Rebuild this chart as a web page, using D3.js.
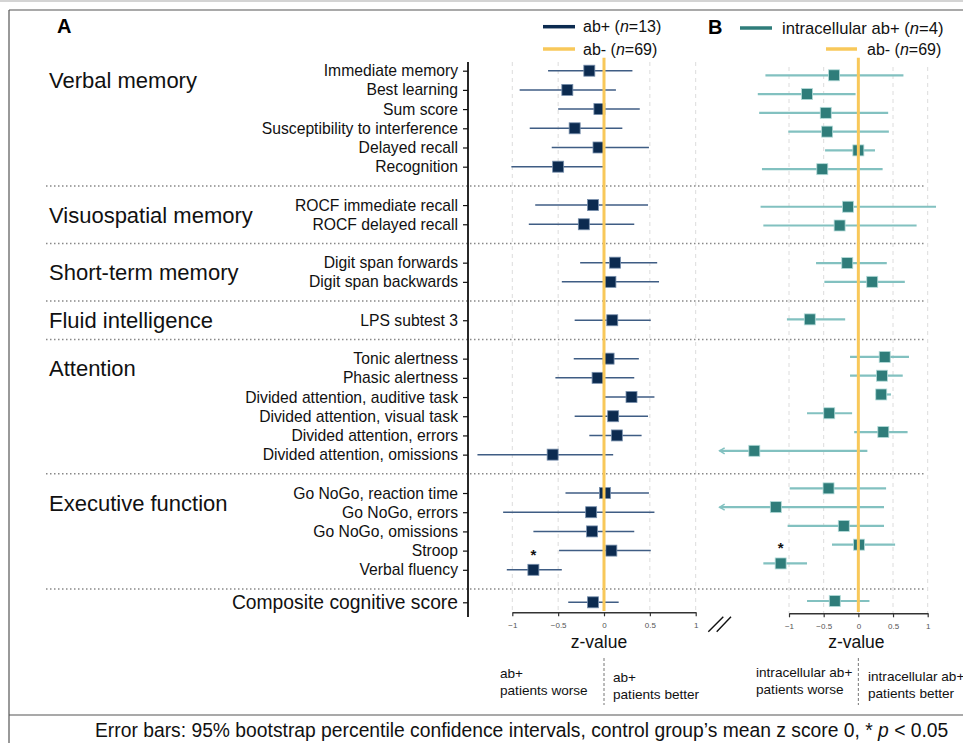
<!DOCTYPE html>
<html>
<head>
<meta charset="utf-8">
<script src="https://cdn.jsdelivr.net/npm/d3@7"></script>
<style>
  body { margin: 0; background: #fff; }
  svg { display: block; font-family: Helvetica, Arial, "Liberation Sans", sans-serif; }
</style>
</head>
<body>
<svg id="chart" width="963" height="743"></svg>
<script>
// categories
var groupNames = ["Verbal memory", "Visuospatial memory", "Short-term memory", "Fluid intelligence",
                  "Attention", "Executive function", "Composite cognitive score"];
var testNames = ["Immediate memory", "Best learning", "Sum score", "Susceptibility to interference",
                 "Delayed recall", "Recognition",
                 "ROCF immediate recall", "ROCF delayed recall",
                 "Digit span forwards", "Digit span backwards",
                 "LPS subtest 3",
                 "Tonic alertness", "Phasic alertness", "Divided attention, auditive task",
                 "Divided attention, visual task", "Divided attention, errors", "Divided attention, omissions",
                 "Go NoGo, reaction time", "Go NoGo, errors", "Go NoGo, omissions", "Stroop", "Verbal fluency",
                 "Composite cognitive score"];
var testGroup = [0,0,0,0,0,0, 1,1, 2,2, 3, 4,4,4,4,4,4, 5,5,5,5,5, 6];

// panel A: ab+ (n=13), z relative to ab- controls
var abMean = [-0.16,-0.40,-0.05,-0.32,-0.06,-0.50, -0.12,-0.22, 0.12,0.07, 0.09,
              0.05,-0.07,0.30,0.10,0.14,-0.56, 0.01,-0.14,-0.13,0.08,-0.77, -0.12];
var abLow  = [-0.61,-0.92,-0.50,-0.81,-0.57,-1.01, -0.75,-0.82, -0.26,-0.46, -0.32,
              -0.33,-0.53,0.01,-0.32,-0.16,-1.38, -0.42,-1.10,-0.77,-0.49,-1.06, -0.39];
var abHigh = [0.31,0.13,0.39,0.20,0.49,0.00, 0.48,0.33, 0.58,0.60, 0.51,
              0.38,0.33,0.55,0.48,0.41,0.10, 0.49,0.55,0.33,0.51,-0.46, 0.16];

// panel B: intracellular ab+ (n=4)
var icMean = [-0.35,-0.74,-0.47,-0.45,0.00,-0.52, -0.15,-0.27, -0.16,0.20, -0.70,
              0.38,0.34,0.33,-0.42,0.36,-1.50, -0.43,-1.19,-0.21,0.01,-1.12, -0.34];
var icLow  = [-1.34,-1.45,-1.43,-1.01,-0.48,-1.39, -1.41,-1.37, -0.61,-0.49, -1.03,
              -0.12,-0.12,0.25,-0.74,-0.06,-2.40, -0.99,-2.30,-1.02,-0.38,-1.37, -0.74];
var icHigh = [0.65,-0.04,0.43,0.44,0.24,0.35, 1.12,0.84, 0.41,0.67, -0.19,
              0.73,0.64,0.47,-0.09,0.71,0.13, 0.40,0.37,0.37,0.53,-0.74, 0.16];

var significant = ["Verbal fluency"];
var zTicks = [-1, -0.5, 0, 0.5, 1];

var navy = "#0c2b50", navyLine = "#3f5d84";
var teal = "#2f7d7a", tealLine = "#82c1c0";
var orange = "#f8c85a";

var svg = d3.select("#chart");

// slot = row position, one empty slot between groups
var slot = testNames.map(function(d, i) { return i + testGroup[i]; });
var sepSlots = groupNames.slice(1).map(function(g, k) {
    return testGroup.indexOf(k + 1) + k;
});
var lastSep = sepSlots[sepSlots.length - 1];
var lastSlot = slot[slot.length - 1];

var yA = d3.scaleLinear().domain([0, lastSep, lastSlot]).range([70.7, 589, 602.3]);
var yB = d3.scaleLinear().domain([0, lastSlot]).range([75.3, 601]);
var xA = d3.scaleLinear().domain([-1, 1]).range([512.3, 695.7]);
var xB = d3.scaleLinear().domain([-1, 1]).range([789, 927.7]);
var clipB = -2;

// frame
svg.append("line").attr("x1", 0).attr("x2", 963).attr("y1", 1).attr("y2", 1)
    .attr("stroke", "#d4d4d4").attr("stroke-width", 2);
svg.append("line").attr("x1", 9).attr("x2", 963).attr("y1", 10).attr("y2", 10)
    .attr("stroke", "#555").attr("stroke-width", 1.2);
svg.append("line").attr("x1", 9).attr("x2", 9).attr("y1", 10).attr("y2", 743)
    .attr("stroke", "#555").attr("stroke-width", 1.2);
svg.append("line").attr("x1", 9).attr("x2", 963).attr("y1", 715).attr("y2", 715)
    .attr("stroke", "#555").attr("stroke-width", 1.2);

// panel letters
svg.append("text").attr("x", 57).attr("y", 33).attr("font-size", 20).attr("font-weight", "bold").text("A");
svg.append("text").attr("x", 708).attr("y", 34).attr("font-size", 20).attr("font-weight", "bold").text("B");

// grid lines
function grid(x, y0, y1) {
    svg.append("g").selectAll("line").data(zTicks).enter().append("line")
        .attr("x1", function(d) { return x(d); }).attr("x2", function(d) { return x(d); })
        .attr("y1", y0).attr("y2", y1)
        .attr("stroke", "#dcdcdc").attr("stroke-dasharray", "4,4");
}
grid(xA, 62, 612);
grid(xB, 67, 613);

// group separators
svg.append("g").selectAll("line").data(sepSlots).enter().append("line")
    .attr("x1", 46).attr("x2", 925)
    .attr("y1", function(d) { return yA(d); }).attr("y2", function(d) { return yA(d); })
    .attr("stroke", "#888").attr("stroke-width", 1.5).attr("stroke-dasharray", "1.5,2.5");

// group labels, centred on their first two rows
var groupLabels = groupNames.slice(0, groupNames.length - 1).map(function(g, k) {
    var rows = slot.filter(function(s, i) { return testGroup[i] === k; });
    var yc = rows.length > 1 ? (yA(rows[0]) + yA(rows[1])) / 2 : yA(rows[0]);
    return { name: g, y: yc };
});
svg.append("g").selectAll("text").data(groupLabels).enter().append("text")
    .attr("x", 49).attr("y", function(d) { return d.y + 8; })
    .attr("font-size", 22).attr("fill", "#111")
    .text(function(d) { return d.name; });

// left axis with test names
var yAxis = d3.axisLeft(yA).tickValues(slot).tickSize(5).tickPadding(5)
    .tickFormat(function(d) { return testNames[slot.indexOf(d)]; });
var gy = svg.append("g").attr("transform", "translate(468,0)").call(yAxis);
gy.select(".domain").remove();
gy.selectAll(".tick line").attr("stroke", "#111").attr("stroke-width", 1.2);
gy.selectAll(".tick text").attr("font-size", 15.7).attr("fill", "#111")
    .attr("font-family", "Helvetica, Arial, 'Liberation Sans', sans-serif")
    .filter(function(d) { return d === lastSlot; }).attr("font-size", 19.3);
svg.append("line").attr("x1", 468).attr("x2", 468).attr("y1", 62).attr("y2", 617)
    .attr("stroke", "#111").attr("stroke-width", 1.8);

// bottom axes
function bottomAxis(x, y) {
    var g = svg.append("g").attr("transform", "translate(0," + y + ")")
        .call(d3.axisBottom(x).tickValues(zTicks).tickSize(4).tickSizeOuter(0).tickPadding(6)
            .tickFormat(d3.format("")));
    g.select(".domain").attr("stroke", "#333").attr("stroke-width", 1.5);
    g.selectAll(".tick line").attr("stroke", "#333").attr("stroke-width", 1.2);
    g.selectAll(".tick text").attr("font-size", 8).attr("fill", "#555")
        .attr("font-family", "Helvetica, Arial, 'Liberation Sans', sans-serif");
}
bottomAxis(xA, 612.3);
bottomAxis(xB, 613.3);

// error bars and markers
var rowsA = testNames.map(function(d, i) {
    return { name: d, y: yA(slot[i]), m: abMean[i], lo: abLow[i], hi: abHigh[i] };
});
var rowsB = testNames.map(function(d, i) {
    return { name: d, y: yB(slot[i]), m: icMean[i], lo: icLow[i], hi: icHigh[i] };
});

function drawPanel(rows, x, lineColor, lineWidth, fill, outline, clipMin) {
    var g = svg.append("g");
    g.selectAll("line.ci").data(rows).enter().append("line").attr("class", "ci")
        .attr("x1", function(d) { return x(clipMin != null ? Math.max(d.lo, clipMin) : d.lo); })
        .attr("x2", function(d) { return x(d.hi); })
        .attr("y1", function(d) { return d.y; }).attr("y2", function(d) { return d.y; })
        .attr("stroke", lineColor).attr("stroke-width", lineWidth);
    if (clipMin != null) {
        g.selectAll("path.arrow").data(rows.filter(function(d) { return d.lo < clipMin; }))
            .enter().append("path").attr("class", "arrow")
            .attr("d", function(d) {
                var x0 = x(clipMin);
                return "M" + (x0 + 5) + "," + (d.y - 3) + "L" + x0 + "," + d.y + "L" + (x0 + 5) + "," + (d.y + 3);
            })
            .attr("fill", "none").attr("stroke", lineColor).attr("stroke-width", 1.5);
    }
    g.selectAll("rect").data(rows).enter().append("rect")
        .attr("x", function(d) { return x(d.m) - 5.5; })
        .attr("y", function(d) { return d.y - 5.5; })
        .attr("width", 11).attr("height", 11)
        .attr("fill", fill).attr("stroke", outline).attr("stroke-width", 0.8);
    g.selectAll("text").data(rows.filter(function(d) { return significant.indexOf(d.name) >= 0; }))
        .enter().append("text")
        .attr("x", function(d) { return x(d.m); }).attr("y", function(d) { return d.y - 10; })
        .attr("text-anchor", "middle").attr("font-size", 15).attr("font-weight", "bold")
        .attr("fill", "#111").text("*");
}
drawPanel(rowsA, xA, navyLine, 1.5, navy, "#7890ad", null);
drawPanel(rowsB, xB, tealLine, 2.2, teal, "#b3dbd9", clipB);

// reference line for ab- controls (z = 0)
svg.append("line").attr("x1", xA(0)).attr("x2", xA(0)).attr("y1", 57.7).attr("y2", 611)
    .attr("stroke", orange).attr("stroke-width", 3);
svg.append("line").attr("x1", xB(0)).attr("x2", xB(0)).attr("y1", 57.7).attr("y2", 612)
    .attr("stroke", orange).attr("stroke-width", 3);

// legends
function legendItem(x1, x2, y, color, tx, size, parts) {
    svg.append("line").attr("x1", x1).attr("x2", x2).attr("y1", y).attr("y2", y)
        .attr("stroke", color).attr("stroke-width", 3.5);
    var t = svg.append("text").attr("x", tx).attr("y", y + 5.5).attr("font-size", size).attr("fill", "#111");
    t.append("tspan").text(parts[0]);
    t.append("tspan").attr("font-style", "italic").text("n");
    t.append("tspan").text(parts[1]);
}
legendItem(543, 575, 26.7, navy, 583, 16, ["ab+ (", "=13)"]);
legendItem(543, 575, 49, orange, 583, 16, ["ab- (", "=69)"]);
legendItem(740, 772, 28, teal, 782, 16.6, ["intracellular ab+ (", "=4)"]);
legendItem(826, 857, 49, orange, 867, 16, ["ab- (", "=69)"]);

// axis titles
svg.append("text").attr("x", xA(0) - 5).attr("y", 648).attr("text-anchor", "middle")
    .attr("font-size", 17.5).attr("fill", "#111").text("z-value");
svg.append("text").attr("x", xB(0) - 2).attr("y", 648).attr("text-anchor", "middle")
    .attr("font-size", 17.5).attr("fill", "#111").text("z-value");

// axis break mark
svg.append("path").attr("d", "M708.3,631.7L723.3,616.7M716.7,631.7L731,616.7")
    .attr("stroke", "#111").attr("stroke-width", 1.4).attr("fill", "none");

// worse / better annotations
[xA(0), xB(0)].forEach(function(x0) {
    svg.append("line").attr("x1", x0).attr("x2", x0).attr("y1", 658).attr("y2", 705)
        .attr("stroke", "#777").attr("stroke-dasharray", "3,2");
});
function note(x, y, lines) {
    var t = svg.append("text").attr("x", x).attr("y", y).attr("font-size", 13.6).attr("fill", "#111");
    lines.forEach(function(l, i) {
        t.append("tspan").attr("x", x).attr("dy", i === 0 ? 0 : 16.5).text(l);
    });
}
note(500, 678, ["ab+", "patients worse"]);
note(613, 682, ["ab+", "patients better"]);
note(756, 677, ["intracellular ab+", "patients worse"]);
note(868, 681, ["intracellular ab+", "patients better"]);

// caption
var cap = svg.append("text").attr("x", 95).attr("y", 737).attr("font-size", 19.3).attr("fill", "#111");
cap.append("tspan").text("Error bars: 95% bootstrap percentile confidence intervals, control group\u2019s mean z score 0, * ");
cap.append("tspan").attr("font-style", "italic").text("p");
cap.append("tspan").text(" < 0.05");
</script>
</body>
</html>
